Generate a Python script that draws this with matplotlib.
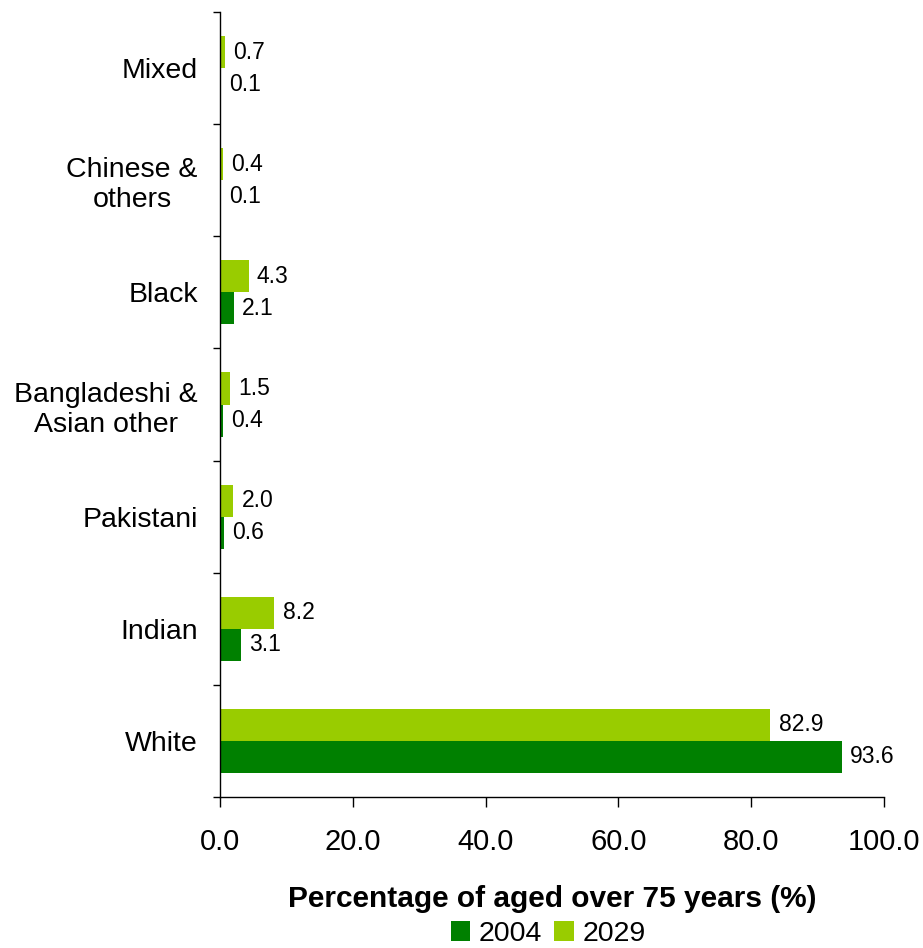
import numpy as np
import matplotlib.pyplot as plt

plt.rcParams.update({
    "font.family": "Liberation Sans",
    "axes.linewidth": 1.0,
})

# categories listed bottom to top
groups = ["White", "Indian", "Pakistani", "Bangladeshi &\nAsian other",
          "Black", "Chinese &\nothers", "Mixed"]
pct_2004 = [93.6, 3.1, 0.6, 0.4, 2.1, 0.1, 0.1]
pct_2029 = [82.9, 8.2, 2.0, 1.5, 4.3, 0.4, 0.7]

c2004 = "#008000"
c2029 = "#99CC00"

fig = plt.figure(figsize=(9.23, 9.48), dpi=100)
ax = fig.add_axes([220 / 923, 151 / 948, 664 / 923, 785 / 948])

y = np.arange(len(groups))
h = 0.286
b04 = ax.barh(y - h / 2, pct_2004, height=h, color=c2004, label="2004")
b29 = ax.barh(y + h / 2, pct_2029, height=h, color=c2029, label="2029")

for bars, vals in ((b04, pct_2004), (b29, pct_2029)):
    for bar, v in zip(bars, vals):
        ax.annotate(f"{v:.1f}", (v, bar.get_y() + bar.get_height() / 2),
                    xytext=(6, 0), textcoords="offset points",
                    ha="left", va="center", fontsize=16.5)

ax.set_xlim(0, 100)
ax.set_ylim(-0.5, len(groups) - 0.5)
ax.set_xticks(np.arange(0, 101, 20))
ax.set_xticklabels([f"{v:.1f}" for v in np.arange(0, 101, 20)], fontsize=21)
ax.tick_params(axis="x", direction="out", length=7, width=1, pad=15)

# boundary ticks between groups, labels at group centres
ax.set_yticks(np.arange(len(groups) + 1) - 0.5)
ax.set_yticklabels([])
ax.tick_params(axis="y", which="major", direction="out", length=5, width=1)
ax.set_yticks(y, minor=True)
ax.set_yticklabels(groups, minor=True, fontsize=20.5, ha="right",
                   multialignment="center")
ax.tick_params(axis="y", which="minor", length=0, pad=16)

for s in ("top", "right"):
    ax.spines[s].set_visible(False)

ax.set_xlabel("Percentage of aged over 75 years (%)", fontsize=21.5,
              fontweight="bold", labelpad=21)

fig.legend(handles=[b04, b29], labels=["2004", "2029"],
           loc="lower center", bbox_to_anchor=(548 / 923, -0.011), ncol=2,
           frameon=False, fontsize=20.5, handlelength=0.7, handleheight=0.7,
           handletextpad=0.3, columnspacing=0.4, borderaxespad=0)

fig.savefig("out.png", dpi=100)
